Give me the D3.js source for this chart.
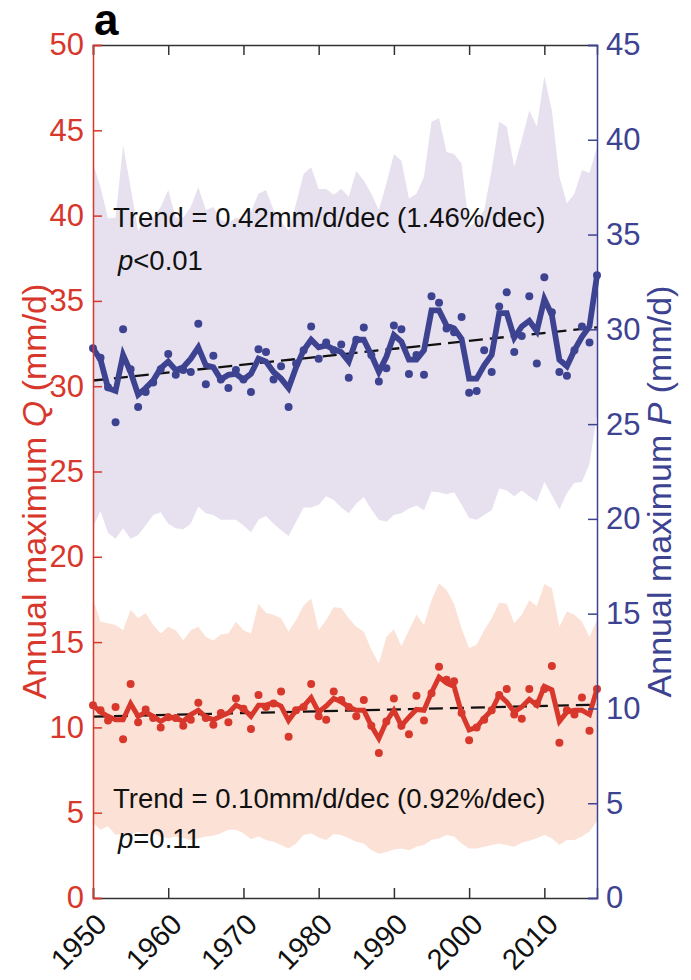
<!DOCTYPE html>
<html>
<head>
<meta charset="utf-8">
<script src="https://cdn.jsdelivr.net/npm/d3@7"></script>
<style>
  html, body { margin: 0; padding: 0; background: #fff; overflow: hidden; }
  svg { display: block; }
</style>
</head>
<body>
<div id="chart"></div>
<script>
// years on x
const yearStart = 1950;
const yearEnd = 2017;
const xTicks = [1950, 1960, 1970, 1980, 1990, 2000, 2010];
const qTicks = [0, 5, 10, 15, 20, 25, 30, 35, 40, 45, 50];
const pTicks = [0, 5, 10, 15, 20, 25, 30, 35, 40, 45];

// P (precipitation) - right axis
const pDots = [29.0, 28.5, 26.95, 25.1, 30.0, 27.9, 25.9, 26.7, 27.2, 27.9,
  28.7, 27.6, 27.85, 27.75, 30.3, 27.1, 28.6, 27.35, 26.9, 27.85,
  27.35, 26.7, 28.95, 28.8, 27.35, 28.05, 25.9, 28.2, 28.9, 30.15,
  28.45, 29.3, 28.9, 29.2, 27.45, 29.45, 30.1, 28.65, 27.25, 27.95,
  30.2, 30.0, 27.65, 28.65, 27.6, 31.75, 31.4, 30.05, 29.85, 30.65,
  26.65, 26.75, 28.9, 27.75, 31.2, 31.95, 28.8, 29.65, 31.75, 28.2,
  32.75, 30.9, 27.75, 27.55, 28.9, 30.15, 29.3, 32.85];
const pLine = [29.0, 28.4, 26.9, 26.75, 28.65, 27.75, 26.55, 26.9, 27.3, 27.95,
  28.3, 27.85, 28.0, 28.45, 29.05, 28.1, 28.0, 27.35, 27.6, 27.65,
  27.35, 27.65, 28.45, 28.3, 27.75, 27.4, 26.9, 28.0, 28.9, 29.45,
  29.05, 29.15, 28.95, 28.8, 28.3, 29.45, 29.45, 28.65, 27.75, 28.55,
  29.7, 29.35, 28.4, 28.4, 28.9, 31.0, 31.0, 30.2, 30.05, 29.5,
  27.4, 27.4, 28.1, 28.65, 30.85, 30.85, 29.55, 30.15, 30.45, 29.9,
  31.6, 30.75, 28.4, 28.05, 28.9, 29.6, 30.15, 32.85];
const pUpper = [38.75, 37.5, 35.85, 35.9, 39.7, 37.5, 35.2, 35.9, 35.9, 36.45,
  37.35, 35.9, 35.9, 36.45, 37.5, 36.3, 36.45, 35.8, 35.6, 35.9,
  35.8, 36.2, 37.15, 37.35, 36.3, 35.7, 35.2, 36.65, 38.2, 38.55,
  37.4, 37.4, 37.1, 37.4, 37.0, 38.35, 37.85, 37.15, 36.3, 37.7,
  39.25, 38.9, 36.9, 37.15, 38.05, 40.95, 41.15, 39.35, 39.25, 38.75,
  35.4, 35.7, 36.3, 38.4, 40.95, 40.7, 38.55, 40.0, 41.55, 40.7,
  43.35, 41.55, 38.05, 36.65, 37.15, 38.4, 38.25, 39.6];
const pLower = [19.6, 20.4, 19.25, 18.95, 19.5, 18.95, 19.15, 19.65, 20.2, 20.35,
  19.75, 19.5, 19.45, 19.75, 20.65, 20.3, 20.2, 19.95, 19.95, 19.95,
  19.65, 19.3, 19.95, 20.15, 19.75, 19.4, 19.1, 19.85, 20.6, 20.6,
  20.75, 21.2, 21.0, 20.6, 20.3, 20.8, 21.15, 20.5, 19.95, 19.85,
  20.2, 20.3, 20.55, 20.7, 20.45, 21.45, 21.4, 21.3, 21.4, 20.75,
  20.05, 19.95, 20.2, 20.45, 21.6, 21.5, 21.2, 21.5, 21.2, 20.9,
  21.95, 21.25, 20.5, 21.35, 21.9, 21.95, 22.9, 25.5];
const pTrend = [27.3, 30.1];

// Q (runoff) - left axis
const qDots = [11.3, 11.0, 10.4, 11.2, 9.3, 12.55, 10.3, 11.05, 10.55, 10.0,
  10.6, 10.55, 10.1, 10.45, 11.45, 10.55, 10.15, 10.85, 10.3, 11.7,
  11.1, 9.9, 11.9, 11.2, 11.4, 12.1, 9.45, 11.0, 11.2, 12.55,
  10.65, 10.45, 12.1, 11.6, 11.2, 10.65, 11.6, 10.1, 8.5, 10.35,
  11.7, 10.1, 9.6, 11.85, 10.4, 12.0, 13.55, 12.8, 12.7, 10.85,
  9.25, 10.0, 10.45, 11.0, 11.9, 12.25, 10.75, 10.5, 12.25, 11.4,
  12.25, 13.6, 9.1, 11.0, 10.75, 11.75, 9.8, 12.25];
const qLine = [11.3, 10.9, 10.65, 10.45, 10.45, 11.4, 10.65, 10.9, 10.65, 10.35,
  10.6, 10.55, 10.35, 10.75, 11.0, 10.6, 10.45, 10.65, 10.85, 11.3,
  11.1, 10.65, 11.3, 11.3, 11.45, 11.25, 10.4, 11.0, 11.25, 11.75,
  10.9, 11.25, 11.7, 11.5, 11.2, 11.0, 11.0, 10.1, 9.35, 10.35,
  11.0, 10.1, 10.6, 11.05, 11.0, 12.05, 12.95, 12.6, 12.4, 10.85,
  9.85, 10.0, 10.55, 11.0, 11.9, 11.5, 10.9, 11.2, 11.65, 11.3,
  12.4, 12.2, 10.35, 10.9, 11.0, 11.0, 10.75, 12.25];
const qUpper = [17.55, 16.2, 16.1, 16.0, 15.7, 16.9, 16.4, 16.7, 16.0, 15.5,
  15.9, 15.7, 15.1, 15.7, 15.9, 15.3, 15.1, 15.45, 15.5, 16.2,
  15.7, 15.5, 17.25, 16.7, 16.6, 16.4, 15.6, 16.3, 17.15, 17.55,
  15.7, 16.3, 17.05, 17.0, 16.4, 15.9, 15.6, 14.55, 13.75, 15.3,
  15.75, 14.75, 15.7, 16.6, 16.0, 17.45, 18.45, 18.05, 17.25, 15.8,
  14.65, 14.85, 15.7, 16.4, 17.3, 17.25, 16.1, 16.6, 17.45, 17.1,
  18.4, 18.15, 15.9, 16.8, 16.6, 16.2, 15.3, 16.3];
const qLower = [4.4, 4.0, 4.2, 3.7, 3.8, 3.7, 3.9, 3.7, 3.8, 3.6,
  3.5, 3.6, 3.5, 3.4, 3.5, 3.6, 3.65, 3.8, 4.0, 4.0,
  3.8, 3.45, 3.6, 3.4, 3.3, 3.1, 2.9, 3.2, 3.7, 3.8,
  3.55, 3.4, 3.75, 3.7, 3.5, 3.3, 3.2, 2.8, 2.6, 2.7,
  2.85, 2.9, 2.8, 3.0, 3.1, 3.4, 3.5, 3.7, 3.6, 3.2,
  2.9, 2.9, 3.0, 3.1, 3.2, 3.1, 3.0, 3.25, 3.35, 3.5,
  3.7, 3.5, 3.1, 3.4, 3.4, 3.6, 3.9, 4.5];
const qTrend = [10.63, 11.33];

const years = d3.range(yearStart, yearEnd + 1);

const width = 691;
const height = 980;
const margin = { top: 45, right: 94, bottom: 82, left: 93 };
const innerWidth = width - margin.left - margin.right;
const innerHeight = height - margin.top - margin.bottom;

const font = '"Liberation Sans", Arial, Helvetica, sans-serif';
const red = '#d8372c';
const blue = '#3d4391';
const purpleFill = '#e7e1ef';
const orangeFill = '#fbe1d6';

const svg = d3.select('#chart').append('svg')
  .attr('width', width)
  .attr('height', height)
  .attr('font-family', font);

const g = svg.append('g')
  .attr('transform', `translate(${margin.left}, ${margin.top})`);

const xScale = d3.scaleLinear().domain([yearStart, yearEnd]).range([0, innerWidth]);
const yQ = d3.scaleLinear().domain([0, 50]).range([innerHeight, 0]);
const yP = d3.scaleLinear().domain([0, 45]).range([innerHeight, 0]);

// shaded ranges
const band = (upper, lower, y) => d3.area()
  .x((d, i) => xScale(years[i]))
  .y0((d, i) => y(lower[i]))
  .y1((d, i) => y(upper[i]));

g.append('path').datum(pUpper)
  .attr('d', band(pUpper, pLower, yP))
  .attr('fill', purpleFill);

g.append('path').datum(qUpper)
  .attr('d', band(qUpper, qLower, yQ))
  .attr('fill', orangeFill);

// trend lines
const trendEnds = [yearStart, yearEnd];
[[pTrend, yP], [qTrend, yQ]].forEach(([tr, y]) => {
  g.append('path').datum(tr)
    .attr('d', d3.line().x((d, i) => xScale(trendEnds[i])).y(d => y(d)))
    .attr('fill', 'none')
    .attr('stroke', '#111')
    .attr('stroke-width', 2.3)
    .attr('stroke-dasharray', '14,7');
});

// series lines + dots
const drawSeries = (lineVals, dotVals, y, color, lw) => {
  g.append('path').datum(lineVals)
    .attr('d', d3.line().x((d, i) => xScale(years[i])).y(d => y(d)))
    .attr('fill', 'none')
    .attr('stroke', color)
    .attr('stroke-width', lw)
    .attr('stroke-linejoin', 'miter');

  g.append('g').selectAll('circle').data(dotVals)
    .enter().append('circle')
    .attr('cx', (d, i) => xScale(years[i]))
    .attr('cy', d => y(d))
    .attr('r', 4)
    .attr('fill', color);
};

drawSeries(pLine, pDots, yP, blue, 5.8);
drawSeries(qLine, qDots, yQ, red, 5);

// annotation texts
const note = (x, y, parts, size) => {
  const t = g.append('text').attr('x', x).attr('y', y)
    .attr('font-size', size).attr('fill', '#111');
  parts.forEach(p => t.append('tspan').attr('font-style', p[1] ? 'italic' : null).text(p[0]));
};
note(20, 182, [['Trend = 0.42mm/d/dec (1.46%/dec)', false]], 27.5);
note(25, 225, [['p', true], ['<0.01', false]], 27.5);
note(20, 763, [['Trend = 0.10mm/d/dec (0.92%/dec)', false]], 27.5);
note(25, 803, [['p', true], ['=0.11', false]], 27.5);

// axes
const xAxisBottom = d3.axisBottom(xScale).tickValues(xTicks).tickSize(-10).tickFormat('');
const xAxisTop = d3.axisTop(xScale).tickValues(xTicks).tickSize(-10).tickFormat('');

const bottomG = g.append('g')
  .attr('transform', `translate(0, ${innerHeight})`)
  .call(xAxisBottom);
bottomG.select('.domain').attr('stroke', '#333').attr('stroke-width', 1.5);
bottomG.selectAll('.tick line').attr('stroke', '#333').attr('stroke-width', 1.5);

const topG = g.append('g').call(xAxisTop);
topG.select('.domain').attr('stroke', '#333').attr('stroke-width', 1.5);
topG.selectAll('.tick line').attr('stroke', '#333').attr('stroke-width', 1.5);

bottomG.selectAll('.tick').append('text')
  .attr('fill', '#111')
  .attr('font-size', 29)
  .attr('text-anchor', 'end')
  .attr('transform', 'translate(15, 28) rotate(-45)')
  .text(d => d);

const leftG = g.append('g')
  .attr('font-family', font)
  .call(d3.axisLeft(yQ).tickValues(qTicks).tickSize(-9).tickPadding(9));
leftG.attr('font-family', font).attr('font-size', 31);
leftG.select('.domain').attr('stroke', red).attr('stroke-width', 1.5);
leftG.selectAll('.tick line').attr('stroke', red).attr('stroke-width', 1.5);
leftG.selectAll('.tick text').attr('fill', red);

const rightG = g.append('g')
  .attr('transform', `translate(${innerWidth}, 0)`)
  .call(d3.axisRight(yP).tickValues(pTicks).tickSize(-9).tickPadding(9));
rightG.attr('font-family', font).attr('font-size', 31);
rightG.select('.domain').attr('stroke', blue).attr('stroke-width', 1.5);
rightG.selectAll('.tick line').attr('stroke', blue).attr('stroke-width', 1.5);
rightG.selectAll('.tick text').attr('fill', blue);

// axis titles
const yTitle = (x, color, letter) => {
  const t = svg.append('text')
    .attr('transform', `translate(${x}, ${margin.top + innerHeight / 2 + 20}) rotate(-90)`)
    .attr('text-anchor', 'middle')
    .attr('font-size', 34)
    .attr('fill', color);
  t.append('tspan').text('Annual maximum ');
  t.append('tspan').attr('font-style', 'italic').text(letter);
  t.append('tspan').text(' (mm/d)');
};
yTitle(46, red, 'Q');
yTitle(671, blue, 'P');

// panel letter
svg.append('text')
  .attr('x', 94).attr('y', 35)
  .attr('font-size', 44)
  .attr('font-weight', 'bold')
  .attr('fill', '#000')
  .text('a');
</script>
</body>
</html>
